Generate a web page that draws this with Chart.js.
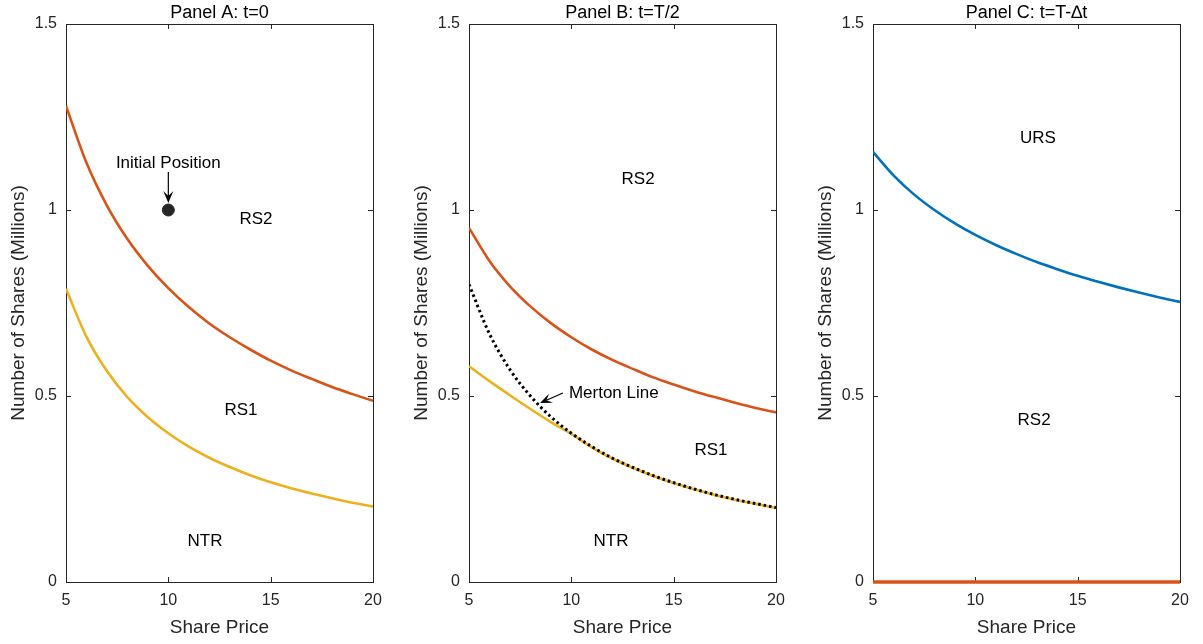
<!DOCTYPE html>
<html>
<head>
<meta charset="utf-8">
<script src="https://cdn.jsdelivr.net/npm/chart.js@4/dist/chart.umd.min.js"></script>
<style>
html,body{margin:0;padding:0;background:#fff;}
#wrap{position:relative;width:1203px;height:644px;overflow:hidden;}
canvas{position:absolute;top:0;}
</style>
</head>
<body>
<div id="wrap">
  <canvas id="pA" width="400" height="644" style="left:0px"></canvas>
  <canvas id="pB" width="400" height="644" style="left:403px"></canvas>
  <canvas id="pC" width="396" height="644" style="left:807px"></canvas>
</div>
<script>
// share price grid and regime boundaries (millions of shares)
const prices = [5,6,7,8,9,10,11,12,13,14,15,16,17,18,19,20];
const rs2A   = [1.28,1.127,1.012,0.922,0.850,0.790,0.739,0.695,0.658,0.625,0.595,0.569,0.546,0.524,0.505,0.487];
const rs1A   = [0.788,0.659,0.567,0.497,0.443,0.400,0.364,0.334,0.309,0.287,0.268,0.252,0.238,0.225,0.213,0.203];
const rs2B   = [0.952,0.863,0.795,0.741,0.696,0.658,0.625,0.597,0.573,0.550,0.531,0.513,0.497,0.482,0.468,0.456];
const rs1B   = [0.580,0.540,0.502,0.465,0.430,0.398,0.362,0.332,0.307,0.285,0.266,0.249,0.234,0.221,0.210,0.199];
const merton = [0.800,0.667,0.571,0.500,0.444,0.400,0.364,0.333,0.308,0.286,0.267,0.250,0.235,0.222,0.211,0.200];
const ursC   = [1.156,1.093,1.042,1.000,0.964,0.933,0.906,0.882,0.860,0.841,0.823,0.807,0.792,0.778,0.765,0.753];
const rs2C   = [0,0,0,0,0,0,0,0,0,0,0,0,0,0,0,0];
const initialPos = [{x:10, y:1}];
const xTicks = [5,10,15,20];
const yTicks = [0,0.5,1,1.5];

const ORANGE = '#D95319', YELLOW = '#EDB120', BLUE = '#0072BD', AXIS = '#262626';
const FONT = 'Liberation Sans, Arial, Helvetica, sans-serif';

const pts = ys => prices.map((p, i) => ({x: p, y: ys[i]}));
const curve = (ys, color, extra) => Object.assign({
  data: pts(ys), borderColor: color, borderWidth: 2.6, pointRadius: 0,
  cubicInterpolationMode: 'monotone', fill: false
}, extra || {});

// axes box with inward tick marks on all four sides
const boxPlugin = {
  id: 'box',
  beforeDatasetsDraw(chart) {
    const {ctx, chartArea: a, scales: {x, y}} = chart;
    const L = 5;
    ctx.save();
    ctx.strokeStyle = AXIS;
    ctx.lineWidth = 1;
    ctx.strokeRect(a.left + 0.5, a.top + 0.5, a.right - a.left, a.bottom - a.top);
    ctx.beginPath();
    xTicks.forEach(v => {
      const px = Math.round(x.getPixelForValue(v)) + 0.5;
      ctx.moveTo(px, a.bottom); ctx.lineTo(px, a.bottom - L);
      ctx.moveTo(px, a.top); ctx.lineTo(px, a.top + L);
    });
    yTicks.forEach(v => {
      const py = Math.round(y.getPixelForValue(v)) + 0.5;
      ctx.moveTo(a.left, py); ctx.lineTo(a.left + L, py);
      ctx.moveTo(a.right, py); ctx.lineTo(a.right - L, py);
    });
    ctx.stroke();
    ctx.restore();
  }
};

// region labels and arrows, placed in data units
const notesPlugin = {
  id: 'notes',
  afterDatasetsDraw(chart, args, opts) {
    const {ctx, scales: {x, y}} = chart;
    ctx.save();
    ctx.fillStyle = '#000';
    ctx.font = '17px ' + FONT;
    ctx.textBaseline = 'middle';
    (opts.texts || []).forEach(t => {
      ctx.textAlign = t.align || 'center';
      ctx.fillText(t.text, x.getPixelForValue(t.x), y.getPixelForValue(t.y));
    });
    (opts.arrows || []).forEach(r => {
      const x0 = x.getPixelForValue(r.x0), y0 = y.getPixelForValue(r.y0);
      const x1 = x.getPixelForValue(r.x1), y1 = y.getPixelForValue(r.y1);
      const ang = Math.atan2(y1 - y0, x1 - x0);
      const len = 12, half = 5, back = 7;
      ctx.strokeStyle = '#000';
      ctx.lineWidth = 1.2;
      ctx.beginPath();
      ctx.moveTo(x0, y0);
      ctx.lineTo(x1 - Math.cos(ang) * back, y1 - Math.sin(ang) * back);
      ctx.stroke();
      const c = Math.cos(ang), s = Math.sin(ang);
      ctx.beginPath();
      ctx.moveTo(x1, y1);
      ctx.lineTo(x1 - c * len - s * half, y1 - s * len + c * half);
      ctx.lineTo(x1 - c * back, y1 - s * back);
      ctx.lineTo(x1 - c * len + s * half, y1 - s * len - c * half);
      ctx.closePath();
      ctx.fill();
    });
    ctx.restore();
  }
};

function panel(id, title, datasets, notes, rightPad) {
  new Chart(document.getElementById(id), {
    type: 'line',
    data: {datasets},
    options: {
      responsive: false,
      animation: false,
      layout: {padding: {top: 0, right: rightPad, bottom: 0, left: 0}},
      plugins: {
        legend: {display: false},
        tooltip: {enabled: false},
        title: {
          display: true, text: title, fullSize: false, color: '#000',
          font: {family: FONT, size: 18, weight: 'normal'},
          padding: {top: 2.4, bottom: 0}
        },
        notes
      },
      scales: {
        x: {
          type: 'linear', min: 5, max: 20,
          grid: {display: false, drawTicks: false}, border: {display: false},
          ticks: {stepSize: 5, padding: 9, color: AXIS, font: {family: FONT, size: 16}},
          title: {display: true, text: 'Share Price', color: AXIS,
                  font: {family: FONT, size: 19}, padding: {top: 0, bottom: 5}},
          afterFit: s => { s.height = 62; }
        },
        y: {
          min: 0, max: 1.5,
          grid: {display: false, drawTicks: false}, border: {display: false},
          ticks: {stepSize: 0.5, padding: 9, color: AXIS, font: {family: FONT, size: 16},
                  callback: v => String(v)},
          title: {display: true, text: 'Number of Shares (Millions)', color: AXIS,
                  font: {family: FONT, size: 19}, padding: {top: 7, bottom: 0}},
          afterFit: s => { s.width = 66; }
        }
      }
    },
    plugins: [boxPlugin, notesPlugin]
  });
}

panel('pA', 'Panel A: t=0', [
  {data: initialPos, showLine: false, pointRadius: 6, pointBackgroundColor: AXIS, pointBorderColor: AXIS},
  curve(rs2A, ORANGE),
  curve(rs1A, YELLOW)
], {
  texts: [
    {text: 'Initial Position', x: 10, y: 1.126},
    {text: 'RS2', x: 14.28, y: 0.976},
    {text: 'RS1', x: 13.55, y: 0.462},
    {text: 'NTR', x: 11.79, y: 0.110}
  ],
  arrows: [{x0: 10, y0: 1.102, x1: 10, y1: 1.019}]
}, 27);

panel('pB', 'Panel B: t=T/2', [
  curve(merton, '#000', {borderWidth: 3, borderDash: [2.5, 3]}),
  curve(rs2B, ORANGE),
  curve(rs1B, YELLOW)
], {
  texts: [
    {text: 'RS2', x: 13.26, y: 1.083},
    {text: 'Merton Line', x: 9.88, y: 0.508, align: 'left'},
    {text: 'RS1', x: 16.82, y: 0.355},
    {text: 'NTR', x: 11.94, y: 0.110}
  ],
  arrows: [{x0: 9.59, y0: 0.508, x1: 8.47, y1: 0.481}]
}, 27);

panel('pC', 'Panel C: t=T-\u2206t', [
  curve(ursC, BLUE),
  curve(rs2C, ORANGE, {borderWidth: 3.5, clip: 5})
], {
  texts: [
    {text: 'URS', x: 13.06, y: 1.194},
    {text: 'RS2', x: 12.87, y: 0.435}
  ]
}, 23);
</script>
</body>
</html>
